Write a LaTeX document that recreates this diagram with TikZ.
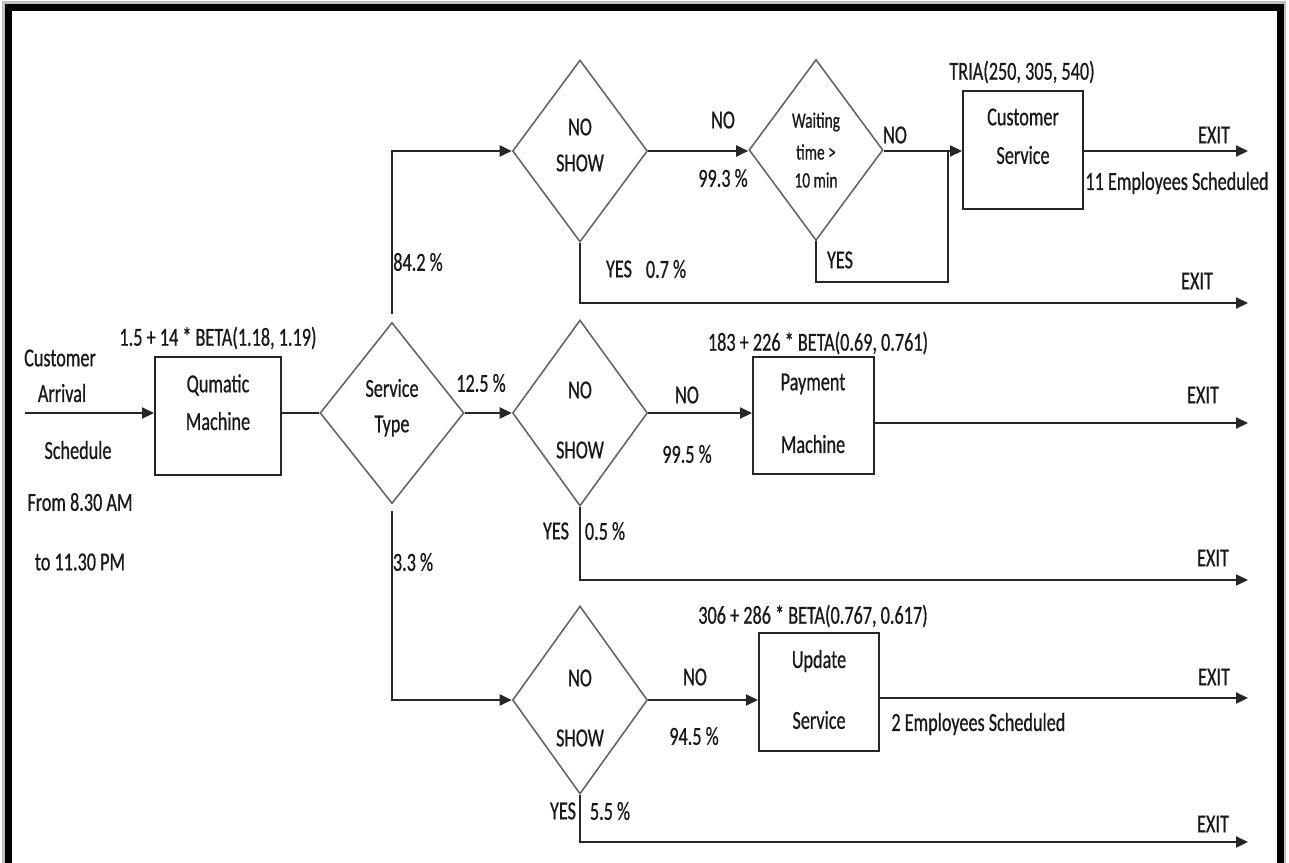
\documentclass[tikz,border=0pt]{standalone}
\usepackage{fontspec}
\setmainfont{Carlito}[FakeStretch=0.7,FakeBold=0.6]
\usetikzlibrary{shapes.geometric,arrows.meta}
\begin{document}
\begin{tikzpicture}[x=0.5pt,y=-0.5pt,
 tx/.style={font=\fontsize{13}{15}\selectfont, inner sep=0pt, text=black!90},
 smalltx/.style={font=\fontsize{11}{13}\selectfont, inner sep=0pt, text=black!90},
 conn/.style={line width=1pt, draw=black!85},
 arr/.style={conn, -{Triangle[length=6pt,width=5.5pt]}},
 dia/.style={diamond, draw=black!60, line width=0.8pt, inner sep=0pt, minimum width=67.5pt, minimum height=91pt},
 box/.style={rectangle, draw=black!85, line width=1pt, inner sep=0pt, minimum width=60pt, minimum height=59pt}]
\useasboundingbox (0,0) rectangle (1289,862);
\fill[white] (0,0) rectangle (1289,862);
\draw[line width=3pt, black!25] (5,4) rectangle (1283,900);
\draw[line width=3.5pt] (8.5,7.5) rectangle (1280,900);

% shapes
\node[box, minimum width=63pt] (qm) at (218,416) {};
\node[dia, minimum width=72pt, minimum height=90.5pt] (st) at (392,413) {};
\node[dia] (ns1) at (580,151) {};
\node[dia, minimum width=67pt, minimum height=90.5pt] (wt) at (816,150) {};
\node[box] (cs) at (1023,150) {};
\node[dia, minimum height=93pt] (ns2) at (580,413) {};
\node[box, minimum width=60.5pt, minimum height=58.5pt] (pm) at (813.5,415.5) {};
\node[dia, minimum height=94pt] (ns3) at (580,700) {};
\node[box] (up) at (819,692) {};

% connectors
\coordinate (start) at (25,413);
\draw[arr] (start) -- (start -| qm.west);
\draw[conn] (qm.east |- st.west) -- (st.west);
\draw[arr] ([yshift=4pt]st.north) |- (ns1.west);
\draw[arr] (st.east) -- (st.east -| ns2.west);
\draw[arr] ([yshift=-3.5pt]st.south) |- (ns3.west);
\draw[arr] (ns1.east) -- (ns1.east -| wt.west);
\coordinate (m1) at (948,151);
\coordinate (m2) at (948,282);
\draw[conn] (wt.east |- m1) -- (m1);
\draw[arr] (m1) -- (m1 -| cs.west);
\draw[conn] (wt.south) |- (m2) -- (m1);
\coordinate (e1) at (1248,151);
\draw[arr] (cs.east |- e1) -- (e1);
\coordinate (e2) at (1248,303);
\draw[arr] (ns1.south) |- (e2);
\draw[arr] (ns2.east) -- (ns2.east -| pm.west);
\coordinate (e3) at (1248,423);
\draw[arr] (pm.east |- e3) -- (e3);
\coordinate (e4) at (1248,580);
\draw[arr] (ns2.south) |- (e4);
\draw[arr] (ns3.east) -- (ns3.east -| up.west);
\coordinate (e5) at (1248,698);
\draw[arr] (up.east |- e5) -- (e5);
\coordinate (e6) at (1248,842);
\draw[arr] (ns3.south) |- (e6);

% texts
\node[tx] (l-arr1) at (60,358) {Customer};
\node[tx] (l-arr2) at (62,393) {Arrival};
\node[tx] (l-arr3) at (78,450) {Schedule};
\node[tx] (l-arr4) at (80,502) {From 8.30 AM};
\node[tx] (l-arr5) at (80,562) {to 11.30 PM};
\node[tx] (l-qmd) at (218,338) {1.5 + 14 * BETA(1.18, 1.19)};
\node[tx] (l-qm1) at (218,385) {Qumatic};
\node[tx] (l-qm2) at (218,421) {Machine};
\node[tx] (l-st1) at (392,388) {Service};
\node[tx] (l-st2) at (392,426) {Type};
\node[tx] (l-p842) at (418,262) {84.2 \%};
\node[tx] (l-p125) at (481,383) {12.5 \%};
\node[tx] (l-p33) at (413,562) {3.3 \%};

\node[tx] (l-n11) at (580,127) {NO};
\node[tx] (l-n12) at (580,163) {SHOW};
\node[tx] (l-no1) at (723,120) {NO};
\node[tx] (l-p993) at (723,178) {99.3 \%};
\node[smalltx] (l-w1) at (816,122) {Waiting};
\node[smalltx] (l-w2) at (816,152) {time >};
\node[smalltx] (l-w3) at (816,180) {10 min};
\node[tx] (l-no2) at (895,135) {NO};
\node[tx] (l-yes1) at (840,260) {YES};
\node[tx] (l-yes2) at (619,269) {YES};
\node[tx] (l-p07) at (666,269) {0.7 \%};
\node[tx] (l-tria) at (1022,72) {TRIA(250, 305, 540)};
\node[tx] (l-cs1) at (1023,117) {Customer};
\node[tx] (l-cs2) at (1023,155) {Service};
\node[tx] (l-ex1) at (1214,135) {EXIT};
\node[tx] (l-emp11) at (1177,183) {11 Employees Scheduled};
\node[tx] (l-ex2) at (1197,281) {EXIT};

\node[tx] (l-n21) at (580,390) {NO};
\node[tx] (l-n22) at (580,450) {SHOW};
\node[tx] (l-no3) at (687,395) {NO};
\node[tx] (l-p995) at (687,454) {99.5 \%};
\node[tx] (l-pmd) at (818,343) {183 + 226 * BETA(0.69, 0.761)};
\node[tx] (l-pm1) at (813,384) {Payment};
\node[tx] (l-pm2) at (813,444) {Machine};
\node[tx] (l-ex3) at (1203,395) {EXIT};
\node[tx] (l-yes3) at (556,531) {YES};
\node[tx] (l-p05) at (605,531) {0.5 \%};
\node[tx] (l-ex4) at (1213,558) {EXIT};

\node[tx] (l-n31) at (580,678) {NO};
\node[tx] (l-n32) at (580,738) {SHOW};
\node[tx] (l-no4) at (695,677) {NO};
\node[tx] (l-p945) at (694,736) {94.5 \%};
\node[tx] (l-upd) at (813,616) {306 + 286 * BETA(0.767, 0.617)};
\node[tx] (l-up1) at (819,661) {Update};
\node[tx] (l-up2) at (819,720) {Service};
\node[tx, anchor=west] (l-emp2) at (891,724) {2 Employees Scheduled};
\node[tx] (l-ex5) at (1214,677) {EXIT};
\node[tx] (l-yes4) at (563,811) {YES};
\node[tx] (l-p55) at (610,811) {5.5 \%};
\node[tx] (l-ex6) at (1213,824) {EXIT};
\end{tikzpicture}
\end{document}
